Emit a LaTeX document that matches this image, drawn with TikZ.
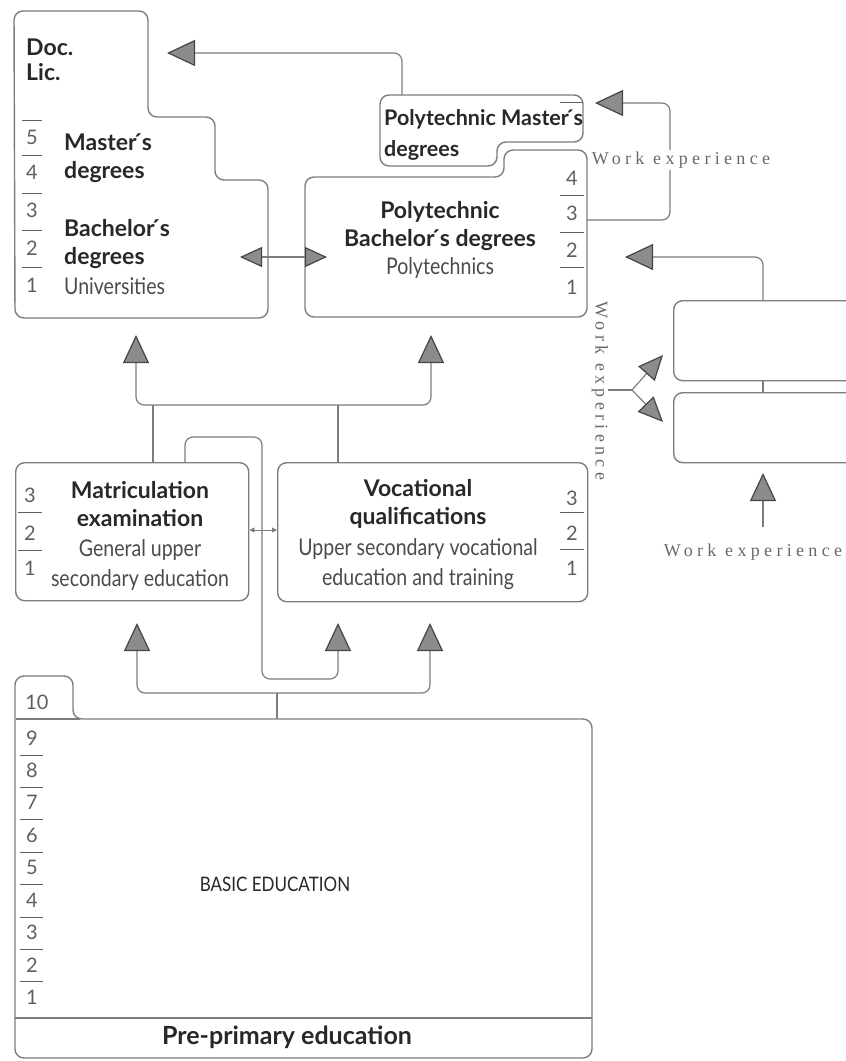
\documentclass[tikz,border=0pt]{standalone}
\usepackage{fontspec}
\setmainfont{Lato}
\newfontfamily\condfont[FakeStretch=0.85]{Lato}
\newfontfamily\workfont[LetterSpace=24]{Liberation Serif}
\usetikzlibrary{arrows.meta}
\definecolor{linegray}{RGB}{125,125,125}
\definecolor{headgray}{RGB}{140,140,140}
\definecolor{tipgray}{RGB}{70,70,70}
\definecolor{headcol}{RGB}{40,40,40}
\definecolor{subcol}{RGB}{75,75,75}
\definecolor{yearcol}{RGB}{95,95,95}
\definecolor{workcol}{RGB}{105,105,105}
\begin{document}
\begin{tikzpicture}[x=1pt,y=-1pt]
		\tikzstyle{every node}+=[inner sep=0pt]
		\tikzstyle{outline}=[draw=linegray, line width=1.4pt, rounded corners=9pt]
		\tikzstyle{conn}=[draw=linegray, line width=1.2pt, rounded corners=8pt]
		\tikzstyle{bighead}=[-{Triangle[length=28pt,width=26pt,color=tipgray,fill=headgray]}]
		\tikzstyle{midhead}=[{Triangle[length=22pt,width=20pt,color=tipgray,fill=headgray]}-{Triangle[length=22pt,width=20pt,color=tipgray,fill=headgray]}]
		\tikzstyle{tinyhead}=[{Triangle[length=5pt,width=5pt]}-{Triangle[length=5pt,width=5pt]}]
		\tikzstyle{head}=[font=\bfseries\fontsize{23}{28}\selectfont, text=headcol, align=center]
		\tikzstyle{sub}=[font=\condfont\fontsize{23}{30}\selectfont, text=subcol, align=center]
		\tikzstyle{year}=[font=\fontsize{20}{20}\selectfont, text=yearcol]
		\tikzstyle{sep}=[draw=yearcol, line width=0.8pt]
		\tikzstyle{work}=[font=\workfont\fontsize{18}{18}\selectfont, text=workcol, fill=white, inner sep=2pt]
		\useasboundingbox (0,0) rectangle (846,1061);
		% universities
		\draw [outline] (15,318) -- (14,11) -- (148,11) -- (148,117) -- (215,117) -- (215,180) -- (268,180) -- (268,318) -- cycle;
		\node [head, anchor=west] (doc) at (26,47) {Doc.};
		\node [head, anchor=west] (lic) at (26,72) {Lic.};
		\node [head, anchor=west, align=left] (unimaster) at (64,158) {Master\'{}s\\degrees};
		\node [head, anchor=west, align=left] (unibach) at (64,244) {Bachelor\'{}s\\degrees};
		\node [sub, anchor=west] (unitxt) at (64,286) {Universities};
		\foreach \n/\y in {5/137,4/172,3/210,2/248,1/285}
			\node [year] (uy\n) at (32,\y) {\n};
		\foreach \y in {120,155,193,230,267}
			\draw [sep] (22,\y) -- (42,\y);
		% polytechnic master
		\draw [outline] (380,166) -- (380,95) -- (583,95) -- (583,142) -- (497,142) -- (497,166) -- cycle;
		\draw [sep] (560,102) -- (582,102);
		\node [head, anchor=west, font=\bfseries\fontsize{21.5}{26}\selectfont] (pmaster1) at (384,119) {Polytechnic Master\'{}s};
		\node [head, anchor=west, font=\bfseries\fontsize{21.5}{26}\selectfont] (pmaster2) at (384,150) {degrees};
		% polytechnic bachelor
		\draw [outline] (305,317) -- (305,177) -- (504,177) -- (504,150) -- (587,150) -- (587,317) -- cycle;
		\node [head] (pbach) at (440,226) {Polytechnic\\Bachelor\'{}s degrees};
		\node [sub] (ptxt) at (440,268) {Polytechnics};
		\foreach \n/\y in {4/178,3/213,2/250,1/287}
			\node [year] (py\n) at (572,\y) {\n};
		\foreach \y in {195,232,267}
			\draw [sep] (560,\y) -- (584,\y);
		% upper secondary
		\node [outline, minimum width=233pt, minimum height=138pt, anchor=north west] (matric) at (15,462) {};
		\node [head] (matrichead) at (140,504) {Matriculation\\examination};
		\node [sub] (matrictxt) at (140,565) {General upper\\secondary education};
		\foreach \n/\y in {3/495,2/533,1/568}
			\node [year] (my\n) at (30,\y) {\n};
		\foreach \y in {512,550}
			\draw [sep] (18,\y) -- (42,\y);
		\node [outline, minimum width=310pt, minimum height=139pt, anchor=north west] (voc) at (277,462) {};
		\node [head] (vochead) at (418,504) {Vocational\\qualifications};
		\node [sub] (voctxt) at (418,564) {Upper secondary vocational\\education and training};
		\foreach \n/\y in {3/498,2/533,1/568}
			\node [year] (vy\n) at (572,\y) {\n};
		\foreach \y in {512,549}
			\draw [sep] (560,\y) -- (584,\y);
		% basic education
		\draw [outline] (15,1058) -- (15,676) -- (73,676) -- (73,719) -- (592,719) -- (592,1058) -- cycle;
		\draw [sep, draw=linegray, line width=1.2pt] (16,719) -- (80,719);
		\draw [draw=linegray, line width=1.4pt] (15,1018) -- (592,1018);
		\node [year] (by10) at (37,702) {10};
		\foreach \n in {1,...,9}
			\node [year] (by\n) at (32,{738+(9-\n)*32.4}) {\n};
		\foreach \k in {0,...,7}
			\draw [sep] (20,{755+\k*32.4}) -- (43,{755+\k*32.4});
		\node [font=\condfont\fontsize{20}{20}\selectfont, text=headcol] (basic) at (275,884) {BASIC EDUCATION};
		\node [head, font=\bfseries\fontsize{25}{28}\selectfont] (preprim) at (287,1037) {Pre-primary education};
		% work boxes on the right
		\node [outline, minimum width=200pt, minimum height=80pt, anchor=north west] (workA) at (673,300) {};
		\node [outline, minimum width=200pt, minimum height=70pt, anchor=north west] (workB) at (673,392) {};
		% connector points
		\coordinate (mtop) at (402,95);
		\coordinate (doctip) at (167,53);
		\coordinate (unidbl) at (240,257);
		\coordinate (polydbl) at (327,257);
		\coordinate (pright) at (587,220);
		\coordinate (wecorner) at (670,220);
		\coordinate (mastertip) at (595,103);
		\coordinate (atop) at (763,300);
		\coordinate (polytip) at (625,257);
		\coordinate (forkin) at (608,390);
		\coordinate (fork) at (632,390);
		\coordinate (atip) at (663,355);
		\coordinate (btip) at (663,422);
		\coordinate (btiplow) at (763,473);
		\coordinate (wefoot) at (763,527);
		\coordinate (uniin) at (136,335);
		\coordinate (polyin) at (431,335);
		\coordinate (bar) at (250,405);
		\coordinate (matout) at (153,462);
		\coordinate (vocout) at (338,462);
		\coordinate (loopout) at (185,462);
		\coordinate (vocin) at (338,623);
		\coordinate (matin) at (137,623);
		\coordinate (vocin2) at (430,623);
		\coordinate (stem) at (277,693);
		\coordinate (basictop) at (277,719);
		% connectors
		\draw [conn, bighead] (mtop) |- (doctip);
		\draw [conn, midhead] (unidbl) -- (polydbl);
		\draw [conn, bighead] (pright) -- (wecorner) |- (mastertip);
		\node [work] (we1) at (681,160) {Work experience};
		\draw [conn, bighead] (atop) |- (polytip);
		\draw [conn] (workA.south -| atop) -- (workB.north -| atop);
		\draw [conn, bighead] (wefoot) -- (btiplow);
		\node [work] (we3) at (753,552) {Work experience};
		\draw [conn] (forkin) -- (fork);
		\draw [conn, -{Triangle[length=25pt,width=22pt,color=tipgray,fill=headgray]}] (fork) -- (atip);
		\draw [conn, -{Triangle[length=25pt,width=22pt,color=tipgray,fill=headgray]}] (fork) -- (btip);
		\node [work, fill=none, rotate=-90] (we2) at (600,391) {Work experience};
		\draw [conn, bighead] (bar) -| (uniin);
		\draw [conn, bighead] (bar) -| (polyin);
		\draw [conn] (matout) -- (matout |- bar);
		\draw [conn] (vocout) -- (vocout |- bar);
		\draw [conn, bighead] (loopout) -- (185,437) -- (262,437) -- (262,679) -- (338,679) -- (vocin);
		\draw [conn, tinyhead, draw=linegray, line width=0.8pt] (matric.east |- 0,530) -- (voc.west |- 0,530);
		\draw [conn] (basictop) -- (stem);
		\draw [conn, bighead] (stem) -| (matin);
		\draw [conn, bighead] (stem) -| (vocin2);
\end{tikzpicture}
\end{document}
